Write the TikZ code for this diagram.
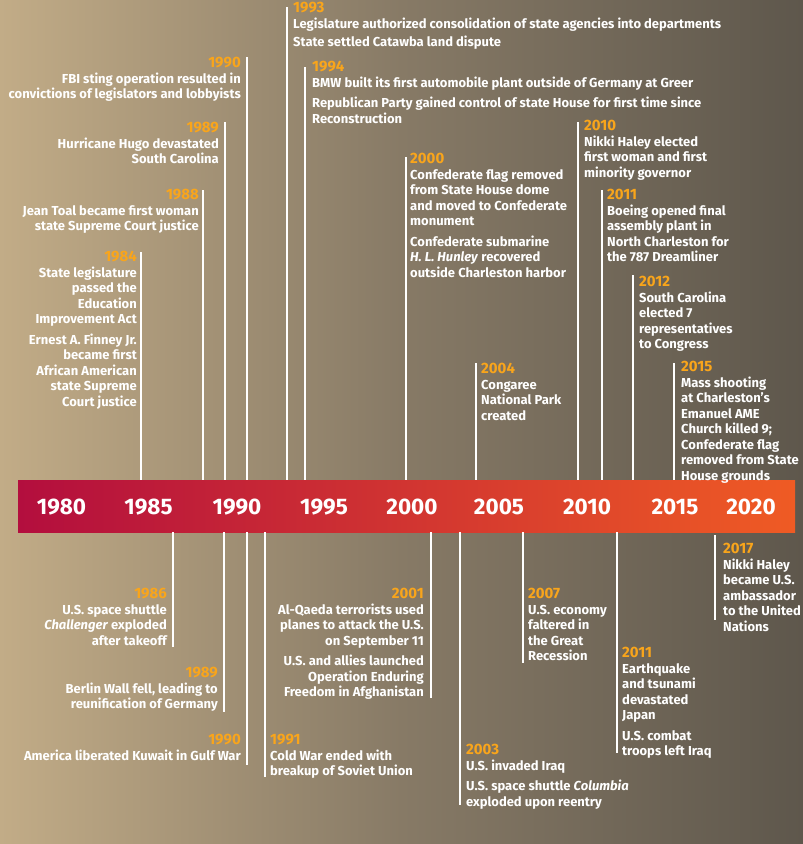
\documentclass[tikz,border=0pt]{standalone}
\usepackage{fontspec}
\setmainfont{Fira Sans}
\definecolor{yearc}{HTML}{F9A51B}
\definecolor{bandl}{HTML}{B30E3E}
\definecolor{bandr}{HTML}{EF5B24}
\definecolor{bgl}{HTML}{C2AC87}
\definecolor{bgm}{HTML}{877A66}
\definecolor{bgr}{HTML}{5E574C}
\newcommand{\evbodyfont}{\bfseries\fontsize{13}{15.5}\selectfont}
\newcommand{\yrlab}[1]{{\color{yearc}\fontsize{15}{15.5}\selectfont #1}}
\tikzset{
  vline/.style={draw=white, line width=1.6pt},
  evR/.style={anchor=north east, align=right, inner sep=0pt, text=white, font=\evbodyfont},
  evL/.style={anchor=north west, align=left, inner sep=0pt, text=white, font=\evbodyfont},
  decade/.style={text=white, font=\bfseries\fontsize{22.5}{26}\selectfont, inner sep=0pt},
  bandbox/.style={draw=none, left color=bandl, right color=bandr, minimum width=777pt, minimum height=52pt, inner sep=0pt}
}
\begin{document}
\begin{tikzpicture}[x=1pt,y=-1pt]
\useasboundingbox (0,0) rectangle (803,844);
% background
\shade[left color=bgl, right color=bgr, middle color=bgm] (0,0) rectangle (803,844);
% band
\node[bandbox] (band) at (406.5,506) {};
\foreach \yy/\xx in {1980/61.5,1985/148.5,1990/237,1995/324,2000/412,2005/499,2010/587,2015/675,2020/751}
  \node[decade] (d\yy) at (\xx,507) {\yy};
% ---------- top events ----------
\coordinate (t84) at (141,252);
\draw[vline] (t84) -- (t84 |- band.north);
\node[evR] (e84) at (137,251) {\yrlab{1984}\\State legislature\\passed the\\Education\\Improvement Act\\[5pt]Ernest A. Finney Jr.\\became first\\African American\\state Supreme\\Court justice};
\coordinate (t88) at (203,190);
\draw[vline] (t88) -- (t88 |- band.north);
\node[evR] (e88) at (199,189) {\yrlab{1988}\\Jean Toal became first woman\\state Supreme Court justice};
\coordinate (t89) at (225,122);
\draw[vline] (t89) -- (t89 |- band.north);
\node[evR] (e89) at (219,122) {\yrlab{1989}\\Hurricane Hugo devastated\\South Carolina};
\coordinate (t90) at (247,57);
\draw[vline] (t90) -- (t90 |- band.north);
\node[evR] (e90) at (241,57) {\yrlab{1990}\\FBI sting operation resulted in\\convictions of legislators and lobbyists};
\coordinate (t93) at (287,7);
\draw[vline] (t93) -- (t93 |- band.north);
\node[evL] (e93) at (293,2) {\yrlab{1993}\\Legislature authorized consolidation of state agencies into departments\\[3pt]State settled Catawba land dispute};
\coordinate (t94) at (305,67);
\draw[vline] (t94) -- (t94 |- band.north);
\node[evL] (e94) at (312,61) {\yrlab{1994}\\BMW built its first automobile plant outside of Germany at Greer\\[5pt]Republican Party gained control of state House for first time since\\Reconstruction};
\coordinate (t00) at (406,157);
\draw[vline] (t00) -- (t00 |- band.north);
\node[evL] (e00) at (410,153) {\yrlab{2000}\\Confederate flag removed\\from State House dome\\and moved to Confederate\\monument\\[5pt]Confederate submarine\\\textit{H. L. Hunley} recovered\\outside Charleston harbor};
\coordinate (t04) at (476,363);
\draw[vline] (t04) -- (t04 |- band.north);
\node[evL] (e04) at (481,363) {\yrlab{2004}\\Congaree\\National Park\\created};
\coordinate (t10) at (578,122);
\draw[vline] (t10) -- (t10 |- band.north);
\node[evL] (e10) at (584,120) {\yrlab{2010}\\Nikki Haley elected\\first woman and first\\minority governor};
\coordinate (t11) at (602,190);
\draw[vline] (t11) -- (t11 |- band.north);
\node[evL] (e11) at (607,189) {\yrlab{2011}\\Boeing opened final\\assembly plant in\\North Charleston for\\the 787 Dreamliner};
\coordinate (t12) at (633,275);
\draw[vline] (t12) -- (t12 |- band.north);
\node[evL] (e12) at (639,276) {\yrlab{2012}\\South Carolina\\elected 7\\representatives\\to Congress};
\coordinate (t15) at (674,363);
\draw[vline] (t15) -- (t15 |- band.north);
\node[evL] (e15) at (681,361) {\yrlab{2015}\\Mass shooting\\at Charleston’s\\Emanuel AME\\Church killed 9;\\Confederate flag\\removed from State\\House grounds};
% ---------- bottom events ----------
\coordinate (b86) at (173,647);
\draw[vline] (band.south -| b86) -- (b86);
\node[evR] (f86) at (167,588) {\yrlab{1986}\\U.S. space shuttle\\\textit{Challenger} exploded\\after takeoff};
\coordinate (b89) at (224,712);
\draw[vline] (band.south -| b89) -- (b89);
\node[evR] (f89) at (218,667) {\yrlab{1989}\\Berlin Wall fell, leading to\\reunification of Germany};
\coordinate (b90) at (247,765);
\draw[vline] (band.south -| b90) -- (b90);
\node[evR] (f90) at (241,734) {\yrlab{1990}\\America liberated Kuwait in Gulf War};
\coordinate (b91) at (265,777);
\draw[vline] (band.south -| b91) -- (b91);
\node[evL] (f91) at (270,734) {\yrlab{1991}\\Cold War ended with\\breakup of Soviet Union};
\coordinate (b01) at (431,698);
\draw[vline] (band.south -| b01) -- (b01);
\node[evR] (f01) at (424,588) {\yrlab{2001}\\Al-Qaeda terrorists used\\planes to attack the U.S.\\on September 11\\[5pt]U.S. and allies launched\\Operation Enduring\\Freedom in Afghanistan};
\coordinate (b03) at (460,805);
\draw[vline] (band.south -| b03) -- (b03);
\node[evL] (f03) at (466,744) {\yrlab{2003}\\U.S. invaded Iraq\\[5pt]U.S. space shuttle \textit{Columbia}\\exploded upon reentry};
\coordinate (b07) at (523,663);
\draw[vline] (band.south -| b07) -- (b07);
\node[evL] (f07) at (528,588) {\yrlab{2007}\\U.S. economy\\faltered in\\the Great\\Recession};
\coordinate (b11) at (617,753);
\draw[vline] (band.south -| b11) -- (b11);
\node[evL] (f11) at (622,647) {\yrlab{2011}\\Earthquake\\and tsunami\\devastated\\Japan\\[5pt]U.S. combat\\troops left Iraq};
\coordinate (b17a) at (715,535);
\coordinate (b17) at (715,620);
\draw[vline] (b17a) -- (b17);
\node[evL] (f17) at (723,543) {\yrlab{2017}\\Nikki Haley\\became U.S.\\ambassador\\to the United\\Nations};
\end{tikzpicture}
\end{document}
